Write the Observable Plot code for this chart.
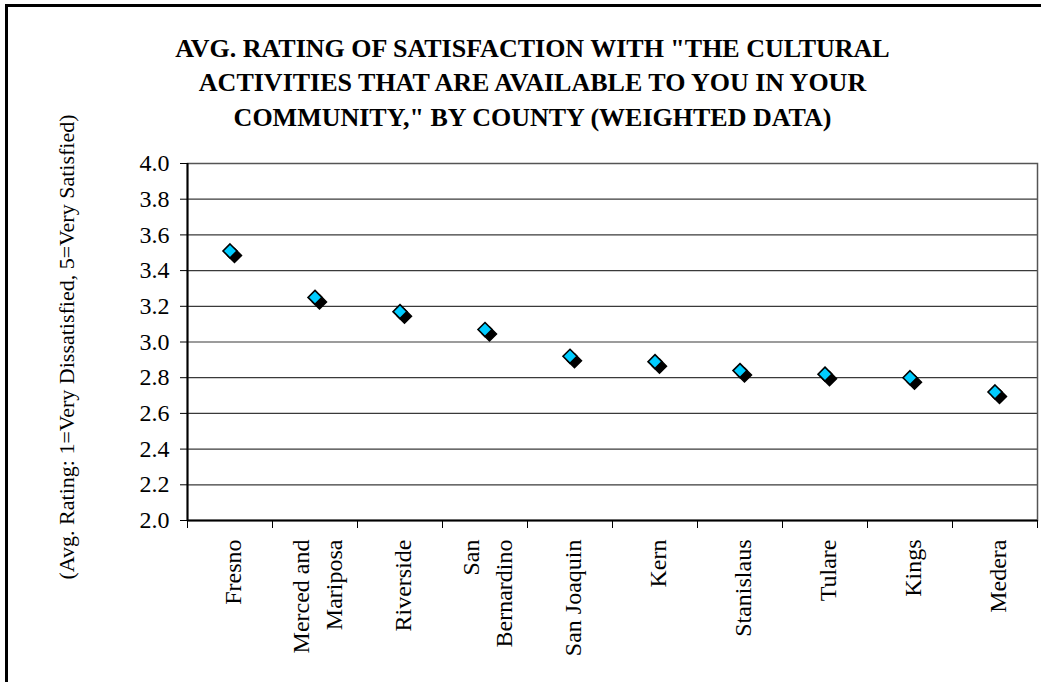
<!DOCTYPE html>
<html>
<head>
<meta charset="utf-8">
<script src="https://cdn.jsdelivr.net/npm/d3@7"></script>
<script src="https://cdn.jsdelivr.net/npm/@observablehq/plot@0.6"></script>
<style>
  html, body { margin: 0; padding: 0; background: #fff; overflow: hidden; }
  #wrap { position: relative; width: 1041px; height: 682px; overflow: hidden; }
  #border { position: absolute; left: 5px; top: 4px; width: 1100px; height: 800px; border-left: 3px solid #000; border-top: 3px solid #000; pointer-events: none; }
</style>
</head>
<body>
<div id="wrap"><div id="border"></div></div>
<script>
const counties = ["Fresno", "Merced and\nMariposa", "Riverside", "San\nBernardino", "San Joaquin", "Kern", "Stanislaus", "Tulare", "Kings", "Medera"];
const ratings = [3.51, 3.25, 3.17, 3.07, 2.92, 2.89, 2.84, 2.82, 2.80, 2.72];
const yTicks = [2.0, 2.2, 2.4, 2.6, 2.8, 3.0, 3.2, 3.4, 3.6, 3.8, 4.0];
const titleText = "AVG. RATING OF SATISFACTION WITH \"THE CULTURAL\nACTIVITIES THAT ARE AVAILABLE TO YOU IN YOUR\nCOMMUNITY,\" BY COUNTY (WEIGHTED DATA)";
const yLabel = "(Avg. Rating: 1=Very Dissatisfied, 5=Very Satisfied)";

const data = counties.map((c, i) => ({i, county: c, rating: ratings[i]}));
const idx = counties.map((_, i) => i);
const bounds = [...idx.map(i => i - 0.5), counties.length - 0.5];

const chart = Plot.plot({
  width: 1041,
  height: 682,
  marginLeft: 187,
  marginRight: 4,
  marginTop: 163,
  marginBottom: 162,
  style: {fontFamily: "'Liberation Serif', 'Times New Roman', serif", background: "transparent", color: "#000"},
  x: {type: "linear", domain: [-0.5, counties.length - 0.5]},
  y: {domain: [2, 4]},
  marks: [
    Plot.gridY(yTicks, {stroke: "#3a3a3a", strokeOpacity: 1, strokeWidth: 1.2}),
    Plot.frame({stroke: "#555", strokeWidth: 1.5}),
    Plot.axisY(yTicks, {tickFormat: d => d.toFixed(1), tickSize: 7, tickPadding: 11, fontSize: 24, label: null}),
    Plot.axisX(bounds, {tickSize: 8, tickFormat: () => "", label: null}),
    Plot.axisX(idx, {tickSize: 0, tickFormat: i => counties[i], tickRotate: -90, tickPadding: 19, fontSize: 24, lineHeight: 1.375, label: null}),
    Plot.ruleX([-0.5], {stroke: "#000", strokeWidth: 2}),
    Plot.ruleY([2], {stroke: "#000", strokeWidth: 2}),
    Plot.dot(data, {x: "i", y: "rating", symbol: "diamond2", r: 6.3, fill: "#000", stroke: "#000", dx: 4.5, dy: 4.5}),
    Plot.dot(data, {x: "i", y: "rating", symbol: "diamond2", r: 6.3, fill: "#00CCFF", stroke: "#000", strokeWidth: 1.6}),
    Plot.text([titleText], {frameAnchor: "top", dx: -80, dy: -131, fontSize: 26, fontWeight: "bold", lineHeight: 1.32, lineAnchor: "top", fill: "#000"}),
    Plot.text([yLabel], {frameAnchor: "left", rotate: -90, textAnchor: "middle", lineAnchor: "middle", dx: -121, dy: 5, fontSize: 22, fill: "#000"})
  ]
});
document.getElementById("wrap").prepend(chart);
</script>
</body>
</html>
